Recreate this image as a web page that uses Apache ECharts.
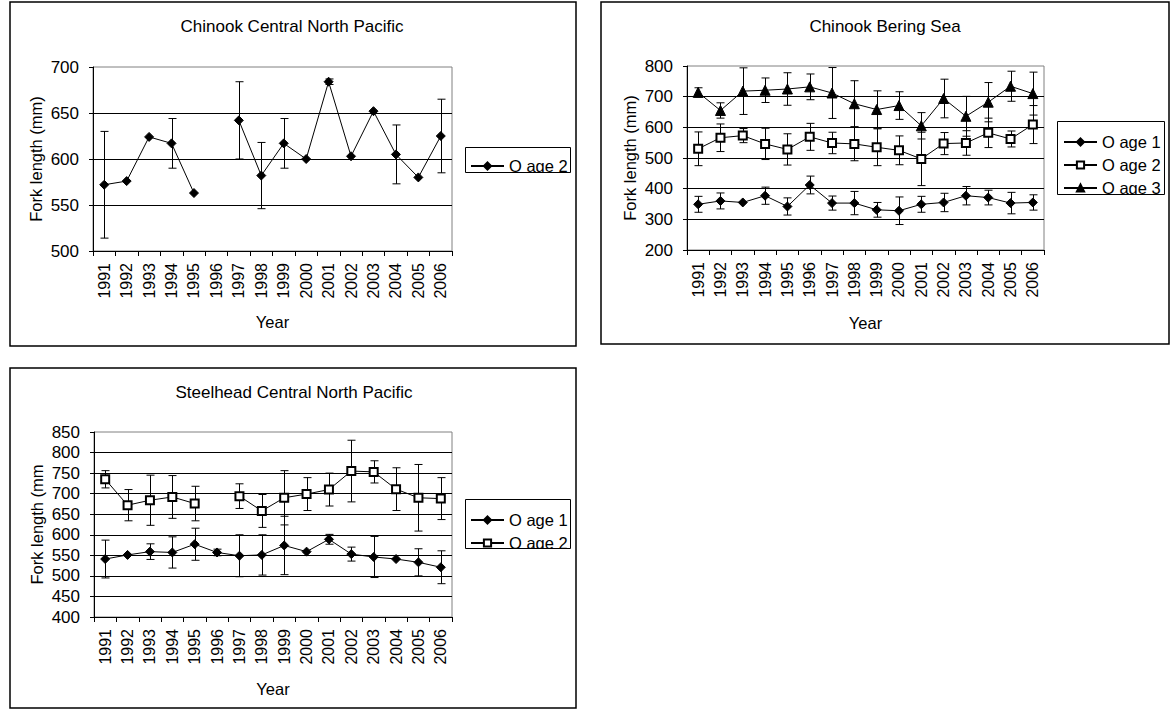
<!DOCTYPE html>
<html><head><meta charset="utf-8">
<script src="https://cdn.jsdelivr.net/npm/echarts@6/dist/echarts.min.js"></script>
<style>html,body{margin:0;padding:0;background:#fff}#c{width:1172px;height:712px}</style>
</head><body><div id="c"></div>
<script>
// ---------- data ----------
const years = ['1991','1992','1993','1994','1995','1996','1997','1998','1999','2000','2001','2002','2003','2004','2005','2006'];
const titles = ['Chinook Central North Pacific', 'Chinook Bering Sea', 'Steelhead Central North Pacific'];
const legendNames = ['O age 1', 'O age 2', 'O age 3'];

// Chinook Central North Pacific, O age 2
const cnpAge2    = [572, 576, 624, 617, 563, null, 642, 582, 617, 600, 684, 603, 652, 605, 580, 625];
const cnpAge2Err = [ 58,   0,   0,  27,   0, null,  42,  36,  27,   0,   3,   0,   0,  32,   0,  40];

// Chinook Bering Sea
const bsAge1    = [349, 360, 355, 377, 342, 412, 353, 353, 331, 328, 349, 355, 377, 371, 353, 355];
const bsAge1Err = [ 26,  26,   0,  28,  28,  29,  23,  38,  24,  45,  26,  30,  30,  24,  35,  25];
const bsAge2    = [530, 566, 573, 546, 528, 569, 549, 546, 535, 525, 497, 547, 549, 582, 562, 609];
const bsAge2Err = [ 55,  45,  23,  51,  51,  44,  35,  55,  60,  47,  87,  36,  40,  48,  26,  62];
const bsAge3    = [714, 655, 718, 721, 725, 732, 712, 677, 658, 671, 605, 694, 636, 682, 734, 710];
const bsAge3Err = [ 15,  25,  76,  40,  53,  42,  83,  75,  61,  45,  43,  63,  65,  64,  49,  70];

// Steelhead Central North Pacific
const shAge1    = [541, 551, 559, 557, 577, 557, 549, 551, 574, 559, 589, 553, 546, 541, 533, 521];
const shAge1Err = [ 46,   0,  19,  38,  39,   8,  51,  49,  71,   0,  12,  17,  50,   0,  33,  40];
const shAge2    = [735, 672, 684, 692, 676, null, 694, 658, 690, 699, 710, 755, 753, 711, 690, 688];
const shAge2Err = [ 21,  38,  61,  52,  42, null,  30,  40,  66,  40,  40,  75,  27,  52,  81,  51];

// y axis scales
const yScales = [
  {min: 500, max: 700, interval: 50},
  {min: 200, max: 800, interval: 100},
  {min: 400, max: 850, interval: 50}
];

// ---------- chart ----------
const FONT = "'Liberation Sans', Arial, sans-serif";
const chart = echarts.init(document.getElementById('c'), null, {renderer: 'svg'});

function lineSeries(name, data, gi, symbol, size) {
  return {
    type: 'line', name: name, xAxisIndex: gi, yAxisIndex: gi, data: data,
    symbol: symbol, symbolSize: size, connectNulls: false, showAllSymbol: true,
    lineStyle: {color: '#000', width: 1},
    itemStyle: {color: '#000', borderColor: '#000', borderWidth: 1},
    emphasis: {disabled: true}, z: 3
  };
}
function errSeries(values, errs, gi) {
  const data = [];
  values.forEach(function (v, i) {
    if (v != null && errs[i]) data.push([i, v, errs[i]]);
  });
  return {
    type: 'custom', xAxisIndex: gi, yAxisIndex: gi, data: data, z: 2,
    encode: {x: 0, y: 1}, silent: true,
    renderItem: function (params, api) {
      const i = api.value(0), v = api.value(1), e = api.value(2);
      const top = api.coord([i, v + e]);
      const bot = api.coord([i, v - e]);
      const x = Math.round(top[0]) + 0.5, w = 4;
      const st = {stroke: '#000', lineWidth: 1, fill: 'none'};
      return {type: 'group', children: [
        {type: 'line', shape: {x1: x, y1: top[1], x2: x, y2: bot[1]}, style: st},
        {type: 'line', shape: {x1: x - w, y1: top[1], x2: x + w, y2: top[1]}, style: st},
        {type: 'line', shape: {x1: x - w, y1: bot[1], x2: x + w, y2: bot[1]}, style: st}
      ]};
    }
  };
}

const grids = [
  {left: 93, top: 67, width: 359, height: 184},
  {left: 687, top: 66, width: 357, height: 184},
  {left: 94, top: 432, width: 358, height: 185}
];
const xNameGap = [62, 64, 63];

const option = {
  animation: false,
  backgroundColor: '#fff',
  title: [
    {text: titles[0], left: 292, top: 18},
    {text: titles[1], left: 885, top: 18},
    {text: titles[2], left: 294, top: 384}
  ].map(function (t) {
    return Object.assign(t, {textAlign: 'center', padding: 0,
      textStyle: {fontSize: 17, fontWeight: 'normal', color: '#000', fontFamily: FONT}});
  }),
  grid: grids.map(function (g) {
    return Object.assign({show: true, borderColor: '#808080', borderWidth: 1,
      backgroundColor: 'transparent', containLabel: false, outerBoundsMode: 'none'}, g);
  }),
  xAxis: grids.map(function (g, gi) {
    return {
      type: 'category', gridIndex: gi, data: years, boundaryGap: true,
      name: 'Year', nameLocation: 'middle', nameGap: xNameGap[gi],
      nameTextStyle: {fontSize: 16.5, color: '#000', fontFamily: FONT},
      axisLine: {show: true, lineStyle: {color: '#000', width: 1}},
      axisTick: {show: true, alignWithLabel: false, length: 5, inside: false, interval: 0,
        lineStyle: {color: '#000', width: 1}},
      axisLabel: {rotate: 90, interval: 0, margin: 12, fontSize: 16, color: '#000', fontFamily: FONT},
      splitLine: {show: false}
    };
  }),
  yAxis: yScales.map(function (s, gi) {
    return {
      type: 'value', gridIndex: gi, min: s.min, max: s.max, interval: s.interval,
      name: gi === 2 ? 'Fork length (mm' : 'Fork length (mm)',
      nameLocation: 'middle', nameGap: 49,
      nameTextStyle: {fontSize: 16.5, color: '#000', fontFamily: FONT},
      axisLine: {show: true, lineStyle: {color: '#000', width: 1}},
      axisTick: {show: true, length: 4, inside: false, lineStyle: {color: '#000', width: 1}},
      axisLabel: {margin: 14, fontSize: 17, color: '#000', fontFamily: FONT},
      splitLine: {show: true, showMaxLine: false, lineStyle: {color: '#000', width: 1}}
    };
  }),
  legend: [
    {data: [legendNames[1] + '|a'], left: 470, top: 157, itemGap: 5},
    {data: [legendNames[0] + '|b', legendNames[1] + '|b', legendNames[2] + '|b'], left: 1063, top: 133, itemGap: 5},
    {data: [legendNames[0] + '|c', legendNames[1] + '|c'], left: 470, top: 511, itemGap: 5}
  ].map(function (l) {
    return Object.assign(l, {
      orient: 'vertical', padding: 0, itemWidth: 33, itemHeight: 9, selectedMode: false,
      formatter: function (n) { return n.split('|')[0]; },
      textStyle: {fontSize: 16.5, color: '#000', fontFamily: FONT, lineHeight: 18}
    });
  }),
  graphic: [
    // panel borders
    {type: 'rect', shape: {x: 10, y: 2, width: 566, height: 344}, style: {fill: 'none', stroke: '#000', lineWidth: 1.5}, z: -1},
    {type: 'rect', shape: {x: 601, y: 2, width: 568, height: 342}, style: {fill: 'none', stroke: '#000', lineWidth: 1.5}, z: -1},
    {type: 'rect', shape: {x: 10, y: 368, width: 566, height: 340}, style: {fill: 'none', stroke: '#000', lineWidth: 1.5}, z: -1},
    // legend masks (clip text below legend box)
    {type: 'rect', shape: {x: 463, y: 172.5, width: 110, height: 8}, style: {fill: '#fff'}, z: 100},
    {type: 'rect', shape: {x: 1055, y: 194.5, width: 112, height: 8}, style: {fill: '#fff'}, z: 100},
    {type: 'rect', shape: {x: 463, y: 548.5, width: 110, height: 8}, style: {fill: '#fff'}, z: 100},
    // legend boxes
    {type: 'rect', shape: {x: 465.5, y: 147.5, width: 105, height: 25}, style: {fill: 'none', stroke: '#000', lineWidth: 1}, z: 101},
    {type: 'rect', shape: {x: 1057.5, y: 121.5, width: 107, height: 73}, style: {fill: 'none', stroke: '#000', lineWidth: 1}, z: 101},
    {type: 'rect', shape: {x: 465.5, y: 499.5, width: 105, height: 49}, style: {fill: 'none', stroke: '#000', lineWidth: 1}, z: 101}
  ],
  series: [
    errSeries(cnpAge2, cnpAge2Err, 0),
    lineSeries(legendNames[1] + '|a', cnpAge2, 0, 'diamond', 9),
    errSeries(bsAge1, bsAge1Err, 1),
    errSeries(bsAge2, bsAge2Err, 1),
    errSeries(bsAge3, bsAge3Err, 1),
    lineSeries(legendNames[0] + '|b', bsAge1, 1, 'diamond', 9),
    lineSeries(legendNames[1] + '|b', bsAge2, 1, 'emptyRect', 8),
    lineSeries(legendNames[2] + '|b', bsAge3, 1, 'triangle', 10),
    errSeries(shAge1, shAge1Err, 2),
    errSeries(shAge2, shAge2Err, 2),
    lineSeries(legendNames[0] + '|c', shAge1, 2, 'diamond', 9),
    lineSeries(legendNames[1] + '|c', shAge2, 2, 'emptyRect', 8)
  ]
};
chart.setOption(option);
</script>
</body></html>
